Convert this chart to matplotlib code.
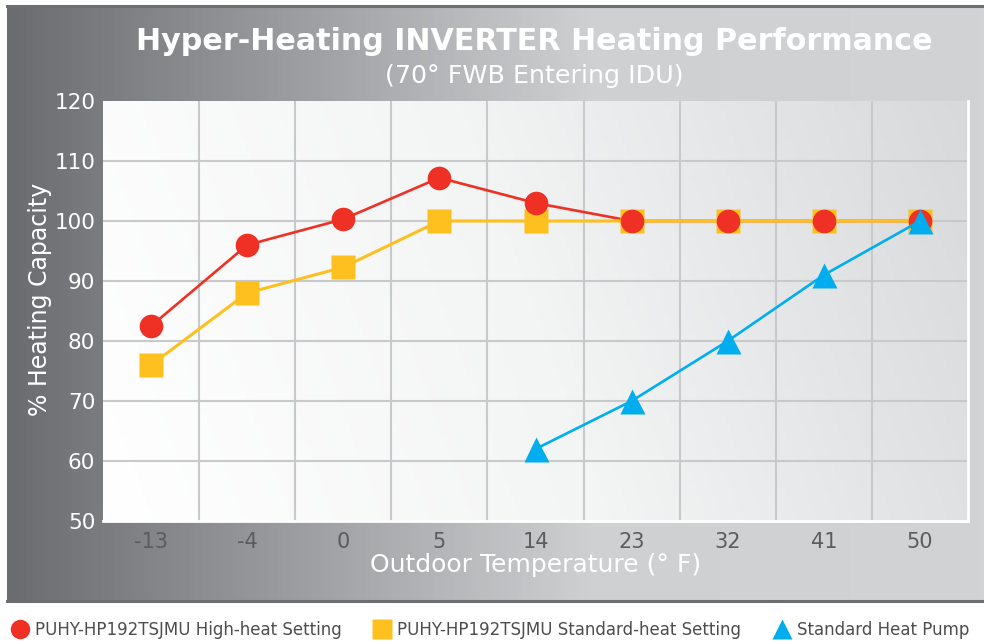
import numpy as np
import matplotlib.pyplot as plt
from matplotlib.colors import LinearSegmentedColormap
from matplotlib.lines import Line2D

# data
temps = ['-13', '-4', '0', '5', '14', '23', '32', '41', '50']
high_heat = [82.5, 96, 100.3, 107.2, 103, 100, 100, 100, 100]
standard_heat = [76, 88, 92.3, 100, 100, 100, 100, 100, 100]
heat_pump_temps = ['14', '23', '32', '41', '50']
heat_pump = [62, 70, 80, 91, 100]
y_ticks = [50, 60, 70, 80, 90, 100, 110, 120]

RED = '#ee3124'
YELLOW = '#fdc01f'
BLUE = '#00aeef'

plt.rcParams['font.family'] = ['DejaVu Sans']

W, H = 984, 641
fig = plt.figure(figsize=(W / 100, H / 100), dpi=100)

# background panel with horizontal grey gradient
bg = fig.add_axes([0, 0, 1, 1], zorder=-10)
bg.set_xlim(0, W)
bg.set_ylim(H, 0)
bg.axis('off')
panel_cmap = LinearSegmentedColormap.from_list(
    'panel', [(0, '#6b6c6f'), (0.6, '#cfd0d2'), (1, '#d2d3d5')])
grad = np.linspace(0, 1, 256).reshape(1, -1)
bg.imshow(grad, cmap=panel_cmap, extent=(7, W, 600, 6), aspect='auto')
bg.plot([7, W], [6, 6], color='#6d6e71', lw=2.2)
bg.plot([7, W], [601, 601], color='#6d6e71', lw=2.2)

# main axes
x0, x1, y_top, y_bot = 103, 968, 101, 521
ax = fig.add_axes([x0 / W, 1 - y_bot / H, (x1 - x0) / W, (y_bot - y_top) / H])
ax.set_xlim(-0.5, len(temps) - 0.5)
ax.set_ylim(50, 120)

plot_cmap = LinearSegmentedColormap.from_list('plot', ['#ffffff', '#f3f4f4', '#d8d9db'])
gx, gy = np.meshgrid(np.linspace(0, 1, 200), np.linspace(0, 1, 100))
ax.imshow(0.85 * gx + 0.15 * (1 - gy), cmap=plot_cmap, extent=(-0.5, 8.5, 50, 120),
          aspect='auto', zorder=0, origin='upper')

for v in np.arange(0.5, len(temps) - 1, 1):
    ax.axvline(v, color='#c8c9cb', lw=1.5, zorder=1)
for v in y_ticks[1:-1]:
    ax.axhline(v, color='#c8c9cb', lw=1.5, zorder=1)

for s in ['top', 'left']:
    ax.spines[s].set_visible(False)
for s in ['right', 'bottom']:
    ax.spines[s].set_color('white')
    ax.spines[s].set_linewidth(2)

xs = np.arange(len(temps))
hp_x = [temps.index(t) for t in heat_pump_temps]

ax.plot(xs, high_heat, color=RED, lw=1.9, zorder=2)
ax.plot(xs, standard_heat, color=YELLOW, lw=2.2, zorder=3)
ax.plot(xs, standard_heat, 's', color=YELLOW, ms=17, mec='none', zorder=4)
ax.plot(xs, high_heat, 'o', color=RED, ms=17, mec='none', zorder=5)
ax.plot(hp_x, heat_pump, color=BLUE, lw=1.9, zorder=6)
ax.plot(hp_x, heat_pump, '^', color=BLUE, ms=18, mec='none', zorder=7)

ax.set_xticks(xs)
ax.set_xticklabels(temps, color='#5b5c5e', fontsize=15)
ax.set_yticks(y_ticks)
ax.set_yticklabels([str(v) for v in y_ticks], color='white', fontsize=15.5)
ax.tick_params(length=0, pad=8)
ax.tick_params(axis='y', pad=5.5)

ax.set_xlabel('Outdoor Temperature (° F)', color='white', fontsize=18)
ax.xaxis.set_label_coords(0.5, -(553 - y_bot) / (y_bot - y_top))
ax.set_ylabel('% Heating Capacity', color='white', fontsize=17)
ax.yaxis.set_label_coords(-(x0 - 52) / (x1 - x0), (y_bot - 299) / (y_bot - y_top))

fig.text(534 / W, 1 - 42 / H, 'Hyper-Heating INVERTER Heating Performance',
         ha='center', va='center', color='white', fontsize=21.7, fontweight='bold')
fig.text(534 / W, 1 - 76 / H, '(70° FWB Entering IDU)',
         ha='center', va='center', color='white', fontsize=18.3)

# legend
handles = [
    Line2D([], [], ls='none', marker='o', color=RED, ms=14, mec='none'),
    Line2D([], [], ls='none', marker='s', color=YELLOW, ms=14, mec='none'),
    Line2D([], [], ls='none', marker='^', color=BLUE, ms=15, mec='none'),
]
labels = ['PUHY-HP192TSJMU High-heat Setting',
          'PUHY-HP192TSJMU Standard-heat Setting',
          'Standard Heat Pump']
leg = fig.legend(handles, labels, ncol=3, loc='center left',
                 bbox_to_anchor=(0.009, 1 - 630 / H), frameon=False,
                 fontsize=12, handlelength=0.9, handletextpad=0.45,
                 columnspacing=2.0, borderaxespad=0, borderpad=0.2)
for t in leg.get_texts():
    t.set_color('#4d4d4f')

fig.savefig('out.png', dpi=100)
